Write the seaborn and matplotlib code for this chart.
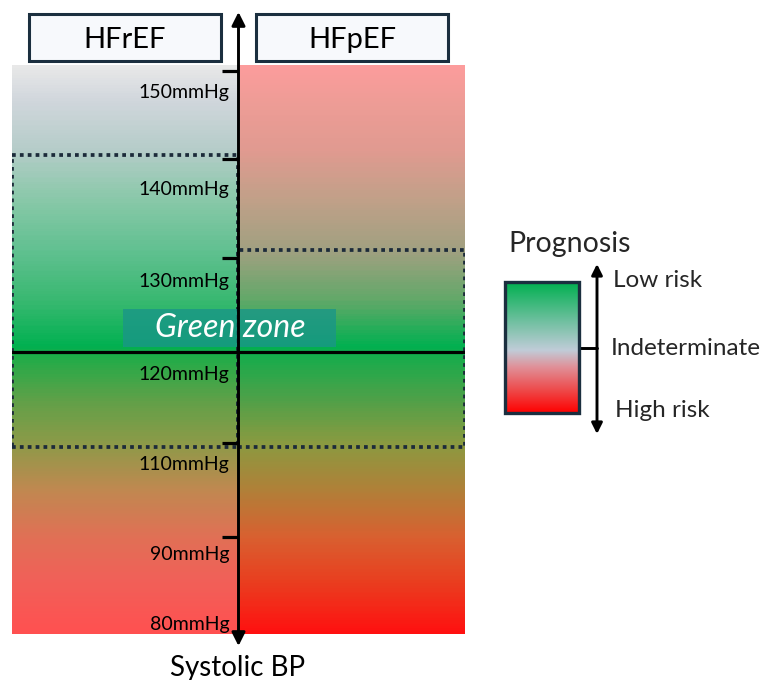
import numpy as np
import matplotlib
matplotlib.use("Agg")
import matplotlib.pyplot as plt
import seaborn as sns
from matplotlib.colors import LinearSegmentedColormap
from matplotlib.patches import Rectangle

# ---------------- data ----------------
groups = ["HFrEF", "HFpEF"]
bp_ticks = [150, 140, 130, 110, 90]
bp_label_values = [150, 140, 130, 120, 110, 90, 80]
bp_labels = [f"{v}mmHg" for v in bp_label_values]
target_bp = 120
zone_hfref = [109.2, 140.4]
zone_hfpef = [109.2, 130.8]
gradient_range = [75.1, 150.7]

gradient_stops = [150.7, 146.7, 141.0, 135.9, 130.8, 125.5, 120.6,
                  119.7, 114.7, 110.0, 100.0, 90.0, 83.4, 75.1]
hfref_colors = ["#e8e8e8", "#d0d6dc", "#b4ccc8", "#88c8a8", "#60c090", "#38b870", "#00b050",
                "#1cac48", "#60a048", "#8c9a48", "#c08850", "#e07055", "#f06058", "#ff5050"]
hfpef_colors = ["#fc9c9c", "#ee9c96", "#e09a90", "#c0a088", "#a0a080", "#60a868", "#00b050",
                "#14ac4c", "#50a048", "#8a9a40", "#b08038", "#d86030", "#e84020", "#ff1010"]

prognosis_labels = ["Low risk", "Indeterminate", "High risk"]
prognosis_stops = [0.0, 0.30, 0.52, 0.65, 0.85, 1.0]
prognosis_colors = ["#00b050", "#70c0a0", "#c0ccd8", "#e09098", "#f04040", "#ff0000"]

# ---------------- layout (BP -> vertical position, schematic axis) ----------------
scale_bp = [60, 80, 90, 110, 120, 130, 140, 150, 170]
scale_px = [732, 602, 537, 443, 352, 258, 159, 71, -105]
label_offsets = [27, 36, 29, 28, 27, 23, 28]


def fwd(v):
    return -np.interp(np.asarray(v, dtype=float), scale_bp, scale_px)


def inv(u):
    return np.interp(-np.asarray(u, dtype=float), scale_px[::-1], scale_bp[::-1])


sns.set_theme(style="white")
plt.rcParams['font.family'] = ['Lato', 'DejaVu Sans']

W, H = 769, 680
fig = plt.figure(figsize=(W / 100, H / 100), dpi=100)
fig.patch.set_facecolor("white")

ax = fig.add_axes([12 / W, 0, 453 / W, 1])
ax.set_yscale("function", functions=(fwd, inv))
ax.set_xlim(0, 2)
ax.set_ylim(float(inv(-H)), float(inv(0)))
ax.axis("off")

lo, hi = gradient_range
edges = np.linspace(lo, hi, 401)
centers = 0.5 * (edges[:-1] + edges[1:])
for i, cols in enumerate([hfref_colors, hfpef_colors]):
    pos = [(s - lo) / (hi - lo) for s in gradient_stops][::-1]
    pos[0], pos[-1] = 0.0, 1.0
    cmap = LinearSegmentedColormap.from_list(groups[i], list(zip(pos, cols[::-1])))
    ax.pcolormesh([i, i + 1], edges, centers.reshape(-1, 1), cmap=cmap,
                  vmin=lo, vmax=hi, shading="flat", zorder=1)

dot_style = dict(fill=False, ls=(0, (1, 1.1)), lw=2.7, ec="#1c2b3a", zorder=3)
ax.add_patch(Rectangle((0, zone_hfref[0]), 1, zone_hfref[1] - zone_hfref[0], **dot_style))
ax.add_patch(Rectangle((1, zone_hfpef[0]), 1, zone_hfpef[1] - zone_hfpef[0], **dot_style))

sns.lineplot(x=[0, 2], y=[target_bp, target_bp], color="black", lw=2.3, ax=ax, zorder=4)
ax.hlines(bp_ticks, 0.927, 1.0, color="black", lw=2.3, zorder=4)
for v, lab, off in zip(bp_label_values, bp_labels, label_offsets):
    ax.annotate(lab, xy=(1, v), xytext=(-9, -off), textcoords="offset pixels",
                ha="right", va="baseline", fontsize=14, color="black", zorder=5)

# ---------------- overlay (annotations) ----------------
ov = fig.add_axes([0, 0, 1, 1], zorder=5)
ov.patch.set_alpha(0)
ov.axis("off")

ov.add_patch(Rectangle((123, 309), 213, 38, fc="#1a9688", alpha=0.8, ec="none"))

ov.annotate("", xy=(238.5, 12), xytext=(238.5, 646),
            arrowprops=dict(arrowstyle="<|-|>", color="black", lw=2.1,
                            mutation_scale=20, shrinkA=0, shrinkB=0))
ov.text(230, 337, "Green zone", style="italic", color="white", fontsize=23,
        ha="center", va="baseline")

for x0, name in zip([29, 256], groups):
    ov.add_patch(Rectangle((x0, 14), 192, 47, fc="#f7f9fc", ec="#1b2f3f", lw=2.2))
    ov.text(x0 + 96, 48, name, ha="center", va="baseline", fontsize=21, color="black")

ov.text(238, 676, "Systolic BP", ha="center", va="baseline", fontsize=20, color="black")

# legend
lcmap = LinearSegmentedColormap.from_list("prog", list(zip(prognosis_stops, prognosis_colors)))
ov.imshow(np.linspace(0, 1, 256).reshape(-1, 1), extent=(505, 579, 413, 282),
          aspect="auto", cmap=lcmap, origin="upper", zorder=2)
ov.add_patch(Rectangle((505, 282), 74, 131, fill=False, ec="#1b2f3f", lw=2.4, zorder=3))
ov.plot([579, 597], [348, 348], color="black", lw=2.1)
ov.annotate("", xy=(597, 264), xytext=(597, 434),
            arrowprops=dict(arrowstyle="<|-|>", color="black", lw=2.1,
                            mutation_scale=16, shrinkA=0, shrinkB=0))
ov.text(508, 252, "Prognosis", ha="left", va="baseline", fontsize=20.5)
for (x, y), lab in zip([(613, 287), (611, 355), (615, 417)], prognosis_labels):
    ov.text(x, y, lab, ha="left", va="baseline", fontsize=17.5)

ov.set_xlim(0, W)
ov.set_ylim(H, 0)

fig.savefig("out.png", dpi=100, facecolor="white")
